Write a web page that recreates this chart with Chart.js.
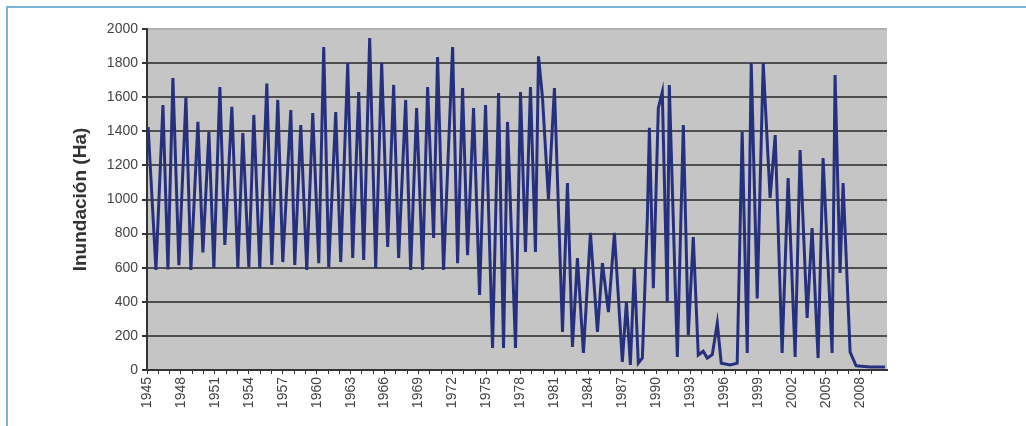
<!DOCTYPE html>
<html>
<head>
<meta charset="utf-8">
<script src="https://cdn.jsdelivr.net/npm/chart.js@4"></script>
<style>
	body { margin: 0; background: #fff; overflow: hidden; }
	#frame { position: absolute; left: 6px; top: 6px; width: 1030px; height: 430px;
		border-top: 2px solid #7ab6d3; border-left: 2px solid #7ab6d3; }
	#wrap { position: absolute; left: 0; top: 0; width: 1026px; height: 426px; }
</style>
</head>
<body>
<div id="frame"></div>
<div id="wrap"><canvas id="chart" width="1026" height="426"></canvas></div>
<script>
// turning points of the series (decimal year) and flooded area (Ha)
const years = [
	1945.10, 1945.79, 1946.41, 1946.85, 1947.29, 1947.82, 1948.44, 1948.88, 1949.50, 1949.94,
	1950.47, 1950.91, 1951.44, 1951.88, 1952.50, 1953.03, 1953.47, 1954.00, 1954.44, 1954.97,
	1955.59, 1956.03, 1956.56, 1957.00, 1957.71, 1958.06, 1958.59, 1959.12, 1959.65, 1960.18,
	1960.62, 1961.06, 1961.68, 1962.12, 1962.74, 1963.18, 1963.71, 1964.15, 1964.68, 1965.21,
	1965.74, 1966.27, 1966.80, 1967.24, 1967.86, 1968.30, 1968.83, 1969.36, 1969.80, 1970.33,
	1970.68, 1971.21, 1972.01, 1972.45, 1972.89, 1973.33, 1973.86, 1974.39, 1974.92, 1975.54,
	1976.07, 1976.51, 1976.86, 1977.57, 1978.01, 1978.45, 1978.89, 1979.33, 1979.60, 1979.95,
	1980.48, 1981.01, 1981.72, 1982.16, 1982.60, 1983.04, 1983.57, 1984.19, 1984.81, 1985.25,
	1985.78, 1986.31, 1987.01, 1987.37, 1987.72, 1988.07, 1988.42, 1988.78, 1989.22, 1989.40,
	1989.75, 1990.19, 1990.54, 1990.98, 1991.16, 1991.87, 1992.40, 1992.84, 1993.28, 1993.72,
	1994.16, 1994.51, 1994.96, 1995.40, 1995.75, 1996.54, 1997.16, 1997.60, 1998.05, 1998.40,
	1998.93, 1999.46, 2000.07, 2000.52, 2001.13, 2001.66, 2002.28, 2002.72, 2003.34, 2003.78,
	2004.31, 2004.75, 2005.55, 2005.81, 2006.25, 2006.52, 2007.14, 2007.67, 2008.90, 2010.23
];
const area = [
	1425, 587, 1554, 590, 1712, 615, 1600, 587, 1455, 690,
	1395, 598, 1660, 733, 1543, 598, 1390, 604, 1496, 598,
	1680, 616, 1584, 633, 1525, 616, 1437, 587, 1507, 627,
	1894, 604, 1513, 633, 1800, 657, 1630, 645, 1947, 598,
	1800, 721, 1672, 657, 1584, 587, 1537, 587, 1660, 774,
	1836, 587, 1894, 627, 1654, 674, 1537, 440, 1554, 129,
	1625, 129, 1455, 129, 1630, 692, 1660, 692, 1840, 1600,
	1000, 1654, 223, 1097, 135, 657, 100, 804, 223, 627,
	340, 804, 47, 400, 30, 598, 40, 70, 890, 1420,
	480, 1537, 1630, 400, 1672, 76, 1437, 205, 780, 88,
	110, 70, 90, 275, 40, 30, 40, 1395, 100, 1800,
	420, 1800, 1009, 1378, 100, 1126, 76, 1290, 305, 833,
	70, 1243, 100, 1730, 569, 1097, 105, 25, 18, 18
];
const yearLabels = ['1945', '1948', '1951', '1954', '1957', '1960', '1963', '1966', '1969', '1972', '1975',
	'1978', '1981', '1984', '1987', '1990', '1993', '1996', '1999', '2002', '2005', '2008'];
const yTitle = 'Inundación (Ha)';

const points = years.map(function(t, i) {
	return {x: t, y: area[i]};
});

const plotBackground = {
	id: 'plotBackground',
	beforeDraw: function(chart) {
		const a = chart.chartArea;
		const ctx = chart.ctx;
		ctx.save();
		ctx.fillStyle = '#c5c5c5';
		ctx.fillRect(a.left, a.top, a.right - a.left, a.bottom - a.top);
		ctx.restore();
	}
};

const font = {family: "'Liberation Sans', Arial, sans-serif", size: 14};

new Chart(document.getElementById('chart').getContext('2d'), {
	type: 'line',
	data: {
		datasets: [{
			data: points,
			borderColor: '#27307f',
			borderWidth: 3,
			pointRadius: 0,
			tension: 0,
			fill: false
		}]
	},
	options: {
		responsive: false,
		animation: false,
		layout: {padding: {left: 60, right: 139, top: 29, bottom: 0}},
		plugins: {legend: {display: false}, tooltip: {enabled: false}},
		scales: {
			x: {
				type: 'linear',
				min: 1945,
				max: 2010.4,
				afterBuildTicks: function(scale) {
					scale.ticks = scale.ticks.filter(function(t) {
						return Number.isInteger(t.value);
					});
				},
				afterFit: function(scale) {
					scale.height = 56;
				},
				ticks: {
					stepSize: 1,
					autoSkip: false,
					minRotation: 90,
					maxRotation: 90,
					padding: 3,
					color: '#444',
					font: font,
					callback: function(value) {
						const s = String(value);
						return yearLabels.indexOf(s) >= 0 ? s : '';
					}
				},
				grid: {drawOnChartArea: false, drawTicks: true, tickLength: 4, tickColor: '#333'},
				border: {color: '#333', width: 2}
			},
			y: {
				min: 0,
				max: 2000,
				afterFit: function(scale) {
					scale.width = 87;
				},
				ticks: {
					stepSize: 200,
					padding: 4,
					color: '#444',
					font: font,
					callback: function(value) {
						return String(value);
					}
				},
				grid: {
					lineWidth: 2,
					tickLength: 5,
					tickColor: '#333',
					color: function(ctx) {
						if (ctx.tick.value === 2000) return '#b0b0b0';
						return '#4e4e4e';
					}
				},
				border: {color: '#333', width: 2},
				title: {
					display: true,
					text: yTitle,
					color: '#333',
					padding: {top: 9, bottom: 0},
					font: {family: "'Liberation Sans', Arial, sans-serif", size: 19, weight: 'bold'}
				}
			}
		}
	},
	plugins: [plotBackground]
});
</script>
</body>
</html>
